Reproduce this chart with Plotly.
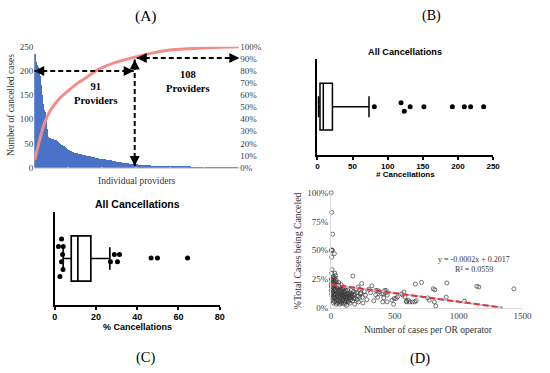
import plotly.graph_objects as go

# ---------------- Panel A: cancelled cases per provider (Pareto) ----------------
provider_cases = [
    236, 218, 212, 208, 203, 190, 172, 150, 132, 120, 115, 100, 80,
    64, 62, 61, 60, 60, 59, 58, 58, 57, 56,
    54, 52, 50, 48, 47, 45, 44, 42, 41, 39, 37, 35,
    34, 33, 32, 31, 31, 30, 30, 29, 29, 28, 28, 27, 27, 26,
    26, 25, 25, 24, 24, 24, 23, 23, 22, 22, 21, 21, 20, 20, 19, 19, 18,
    18, 17, 17, 16, 16, 16, 15, 15, 15, 14, 14, 13, 13, 12, 12,
    12, 11, 11, 11, 10, 10, 10, 9, 9, 9, 9, 8, 8, 8, 8, 7, 7,
    7, 7, 6, 6, 6, 6, 6, 6, 5, 5, 5, 5, 5, 5, 5, 4, 4, 4, 4, 4, 4, 4, 4,
    3, 3, 3, 3, 3, 3, 3, 3,
    3, 3, 3, 3, 3, 2, 2, 2, 2, 2, 2, 2, 2, 2, 2, 2, 2, 2, 2, 2, 2, 2, 2,
    1, 1, 1, 1, 1, 1, 1, 1, 1, 1, 1, 1, 1, 1, 1,
    1, 1, 1, 1, 1, 1, 1, 1, 1, 1, 1, 1, 1, 1, 1, 1,
    1, 1, 1, 1, 1, 1, 1, 1, 1, 1, 1, 1, 1, 1, 1, 1,
]
provider_index = list(range(len(provider_cases)))
cum_index = [0, 3, 6, 10, 15, 19, 25, 33, 41, 49, 60, 70, 80, 97, 115, 128, 150, 175, 198]
cum_share = [0.06, 0.17, 0.27, 0.38, 0.47, 0.52, 0.58, 0.64, 0.695, 0.74, 0.805,
             0.845, 0.875, 0.915, 0.95, 0.97, 0.985, 0.995, 1.0]
a_left_ticks = [0, 50, 100, 150, 200, 250]
a_right_ticks = [0, 0.1, 0.2, 0.3, 0.4, 0.5, 0.6, 0.7, 0.8, 0.9, 1.0]
group_labels = ["91<br>Providers", "108<br>Providers"]

# ---------------- Panel B: number of cancellations box plot ----------------
b_stats = dict(q1=3.7, median=8.4, q3=21.4, lowerfence=1.4, upperfence=73.4)
b_outliers = [81, 119, 123.6, 132, 151.5, 192, 209, 218, 236.5]
b_lane = [0, 0.08, -0.095, 0, 0, 0, 0, 0, 0]
b_ticks = [0, 50, 100, 150, 200, 250]

# ---------------- Panel C: % cancellations box plot ----------------
c_stats = dict(q1=8.0, median=11.2, q3=17.5, lowerfence=4.1, upperfence=26.7)
c_points = [3.3, 1.8, 4.1, 3.8, 3.3, 4.0, 2.5, 28.9, 31.4, 27.0, 30.4, 46.7, 49.8, 64.4]
c_lane = [0.42, 0.26, 0.26, 0.085, -0.07, -0.24, -0.39, 0.085, 0.085, -0.07, -0.07, 0.01, 0.01, 0.01]
c_ticks = [0, 20, 40, 60, 80]

# ---------------- Panel D: % canceled vs. number of cases ----------------
d_cases = [0, 5, 13, 2, 6, 10, 26, 5, 8, 4, 30, 35, 20, 171, 240,
           3, 7, 12, 15, 18, 22, 25, 28, 32, 38, 42, 45, 50, 55, 60, 65, 70, 75, 80, 85,
           90, 95, 100, 105, 110, 115, 120, 125, 130, 140, 145, 150,
           2, 5, 8, 10, 12, 15, 18, 20, 24, 27, 30, 33, 36, 40, 44, 48, 52, 56, 60, 64,
           68, 72, 76, 80, 84, 88, 92, 96, 100, 104, 108, 112, 118, 122, 128, 135, 142, 148,
           155, 160, 165, 170, 175, 180, 185, 190, 200, 210, 215, 222, 230, 245, 250, 260,
           270, 280, 295, 310, 320, 335, 350, 365, 380, 395, 405, 420, 430, 440,
           1, 3, 6, 9, 11, 14, 17, 19, 23, 26, 29, 31, 34, 37, 41, 43, 46, 49, 53, 58,
           62, 66, 71, 74, 78, 82, 86, 91, 94, 98, 102, 107, 111, 116, 124, 132, 138, 146,
           152, 158, 168, 178, 188, 196, 205, 212, 225, 235,
           350, 362, 408, 431, 439, 477, 495, 510, 520, 553, 571, 579, 591, 604, 617, 637,
           656, 661, 709, 770, 758, 801, 813, 809, 821, 903, 908, 1046, 1143, 1158, 1433,
           490, 413, 561, 592, 668]
d_cancel_pct = [100, 83, 64, 50, 50, 50, 47, 44, 33, 30, 30, 28, 27, 27.5, 21,
                25, 24, 26, 22, 20, 25, 23, 21, 19, 24, 22, 18, 17, 20, 22, 15, 18, 14, 20, 12,
                16, 13, 11, 17, 14, 9, 12, 10, 15, 12, 8, 11,
                15, 12, 10, 18, 8, 14, 6, 11, 9, 15, 5, 12, 8, 14, 6, 10, 4, 13, 7, 11,
                3, 9, 5, 8, 14, 6, 10, 4, 7, 12, 5, 9, 6, 2, 8, 5, 10, 4,
                7, 12, 9, 6, 14, 11, 3, 8, 13, 10, 5, 16, 12, 9, 4, 14,
                11, 7, 16, 13, 19, 6, 11, 9, 14, 12, 5, 15, 13, 11,
                20, 18, 22, 16, 13, 21, 9, 4, 17, 12, 8, 26, 16, 11, 3, 20, 12, 7, 15, 9,
                17, 5, 13, 10, 16, 4, 11, 7, 18, 9, 14, 3, 11, 15, 7, 12, 6, 13,
                9, 15, 10, 8, 12, 16, 7, 18, 9, 13,
                15, 15, 12, 15, 5, 6.5, 8, 8, 9.3, 12, 13.6, 9.3, 5, 6.5, 5, 5,
                5, 20.5, 22, 6.5, 8.5, 16.4, 15.5, 5, 1.5, 9.3, 21.5, 5.7, 18.6, 18, 16.4,
                3, 8.5, 11, 5.7, 6]
trend_intercept_pct = 20.17
trend_slope_pct = -0.015
d_xticks = [0, 500, 1000, 1500]
d_yticks = [0, 25, 50, 75, 100]
d_yticktext = ["0%", "25%", "50%", "75%", "100%"]

# ---------------- layout helpers ----------------
W, H = 550, 373
SERIF = "Liberation Serif"
SANS = "Liberation Sans"


def fx(p):
    return p / W


def fy(p):
    return 1 - p / H


fig = go.Figure()

# Panel A
fig.add_trace(go.Bar(x=provider_index, y=provider_cases, marker=dict(color="#4A72C6", line=dict(width=0)),
                     xaxis="x", yaxis="y", showlegend=False))
fig.add_trace(go.Scatter(x=cum_index, y=cum_share, mode="lines", line=dict(color="#F28C86", width=3, shape="spline"),
                         xaxis="x", yaxis="y2", showlegend=False))

# Panel B
fig.add_trace(go.Box(orientation="h", y=[0], q1=[b_stats["q1"]], median=[b_stats["median"]], q3=[b_stats["q3"]],
                     lowerfence=[b_stats["lowerfence"]], upperfence=[b_stats["upperfence"]],
                     width=0.97, whiskerwidth=0.45, fillcolor="white", line=dict(color="black", width=1.5),
                     boxpoints=False, xaxis="x3", yaxis="y3", showlegend=False))
fig.add_trace(go.Scatter(x=b_outliers, y=b_lane, mode="markers", marker=dict(color="black", size=5),
                         xaxis="x3", yaxis="y3", showlegend=False, cliponaxis=False))

# Panel C
fig.add_trace(go.Box(orientation="h", y=[0], q1=[c_stats["q1"]], median=[c_stats["median"]], q3=[c_stats["q3"]],
                     lowerfence=[c_stats["lowerfence"]], upperfence=[c_stats["upperfence"]],
                     width=0.98, whiskerwidth=0.5, fillcolor="white", line=dict(color="black", width=1.7),
                     boxpoints=False, xaxis="x4", yaxis="y4", showlegend=False))
fig.add_trace(go.Scatter(x=c_points, y=c_lane, mode="markers", marker=dict(color="black", size=5),
                         xaxis="x4", yaxis="y4", showlegend=False, cliponaxis=False))

# Panel D
fig.add_trace(go.Scatter(x=d_cases, y=d_cancel_pct, mode="markers",
                         marker=dict(symbol="circle-open", color="#3a3a3a", size=4, line=dict(width=0.7)),
                         xaxis="x5", yaxis="y5", showlegend=False, cliponaxis=False))
trend_end = -trend_intercept_pct / trend_slope_pct
trend_x = [0, trend_end]
trend_y = [trend_intercept_pct + trend_slope_pct * v for v in trend_x]
fig.add_trace(go.Scatter(x=trend_x, y=trend_y, mode="lines", line=dict(color="#A9C4E8", width=2),
                         xaxis="x5", yaxis="y5", showlegend=False))
fig.add_trace(go.Scatter(x=trend_x, y=trend_y, mode="lines", line=dict(color="#E8312A", width=2, dash="6px,3px"),
                         xaxis="x5", yaxis="y5", showlegend=False))

fig.update_layout(
    width=W, height=H, margin=dict(l=0, r=0, t=0, b=0),
    paper_bgcolor="white", plot_bgcolor="white", showlegend=False, bargap=0,
    xaxis=dict(domain=[fx(32), fx(242)], range=[-0.5, len(provider_cases) - 0.5], showticklabels=False,
               showgrid=False, zeroline=False, showline=True, linecolor="#D9D9D9", linewidth=1, anchor="y"),
    yaxis=dict(domain=[fy(167), fy(43)], range=[0, 250], tickvals=a_left_ticks, showgrid=False, zeroline=False,
               tickfont=dict(family=SERIF, size=9, color="#404040"), anchor="x"),
    yaxis2=dict(domain=[fy(167), fy(43)], range=[0, 1], tickvals=a_right_ticks, tickformat=".0%", overlaying="y",
                side="right", showgrid=False, zeroline=False,
                tickfont=dict(family=SERIF, size=9, color="#404040"), anchor="x"),
    xaxis3=dict(domain=[fx(322), fx(502)], range=[0, 250], tickvals=b_ticks, anchor="y3", showgrid=False,
                zeroline=False, showline=True, linecolor="black", linewidth=1.8, ticks="outside", ticklen=3,
                tickwidth=1.5, tickcolor="black", tickfont=dict(family=SANS, size=8, color="black", weight="bold")),
    yaxis3=dict(domain=[fy(154), fy(55)], range=[-1, 1], anchor="x3", showgrid=False, zeroline=False,
                showline=True, linecolor="black", linewidth=1.8, showticklabels=False, ticks=""),
    xaxis4=dict(domain=[fx(53), fx(222)], range=[0, 80], tickvals=c_ticks, anchor="y4", showgrid=False,
                zeroline=False, showline=True, linecolor="black", linewidth=1.8, ticks="outside", ticklen=3,
                tickwidth=1.5, tickcolor="black", tickfont=dict(family=SANS, size=9, color="black", weight="bold")),
    yaxis4=dict(domain=[fy(308), fy(213)], range=[-1, 1], anchor="x4", showgrid=False, zeroline=False,
                showline=True, linecolor="black", linewidth=1.8, showticklabels=False, ticks=""),
    xaxis5=dict(domain=[fx(336), fx(532)], range=[0, 1500], tickvals=d_xticks, anchor="y5", showgrid=False,
                zeroline=False, showline=True, linecolor="#D9D9D9", linewidth=1,
                tickfont=dict(family=SERIF, size=9, color="#404040")),
    yaxis5=dict(domain=[fy(311), fy(193)], range=[0, 100], tickvals=d_yticks, ticktext=d_yticktext, anchor="x5",
                showgrid=False, zeroline=False, showline=True, linecolor="#D9D9D9", linewidth=1,
                tickfont=dict(family=SERIF, size=9, color="#404040")),
)

# dashed guide lines in panel A
split_x = 97
dash_style = dict(color="black", width=2, dash="5px,3px")
fig.add_shape(type="line", xref="x", yref="y", x0=-0.5, x1=split_x - 1, y0=200, y1=200, line=dash_style)
fig.add_shape(type="line", xref="x", yref="y", x0=split_x, x1=split_x, y0=3, y1=224, line=dash_style)
fig.add_shape(type="line", xref="x", yref="y", x0=split_x + 2, x1=len(provider_cases) - 0.5, y0=227, y1=227,
              line=dash_style)

arrow_tips = [(-0.5, 200, 8, 0), (split_x - 1, 200, -8, 0), (split_x, 3, 0, -8), (split_x, 224, 0, 8),
              (split_x + 2, 227, 8, 0), (len(provider_cases) - 0.5, 227, -8, 0)]
for x, y, ax, ay in arrow_tips:
    fig.add_annotation(x=x, y=y, xref="x", yref="y", ax=ax, ay=ay, text="", showarrow=True,
                       arrowhead=2, arrowsize=1, arrowwidth=2, arrowcolor="black")

fig.add_annotation(x=59, y=153, xref="x", yref="y", text="<b>" + group_labels[0] + "</b>", showarrow=False,
                   font=dict(family=SERIF, size=10.5, color="black"))
fig.add_annotation(x=148.6, y=179, xref="x", yref="y", text="<b>" + group_labels[1] + "</b>", showarrow=False,
                   font=dict(family=SERIF, size=10.5, color="black"))


def label(text, x, y, size, family=SERIF, bold=False, angle=0, color="black"):
    fig.add_annotation(x=fx(x), y=fy(y), xref="paper", yref="paper", text=("<b>%s</b>" % text) if bold else text,
                       showarrow=False, xanchor="center", yanchor="middle", textangle=angle,
                       font=dict(family=family, size=size, color=color), borderpad=0)


label("(A)", 146, 11, 15.5)
label("(B)", 439, 11, 14)
label("(C)", 146, 362, 14.5)
label("(D)", 427, 363, 14.5)
label("Individual providers", 137, 181, 9.5, color="#333333")
label("Number of cancelled cases", 8, 103, 9.5, angle=-90, color="#333333")
label("All Cancellations", 412, 48, 9.2, family=SANS, bold=True)
label("# Cancellations", 412, 174.5, 8, family=SANS, bold=True)
label("All Cancellations", 137.5, 204, 10.5, family=SANS, bold=True)
label("% Cancellations", 138, 331, 9, family=SANS, bold=True)
label("%Total Cases being Canceled", 301, 252, 9.8, angle=-90, color="#333333")
label("Number of cases per OR operator", 436, 334, 9.5, color="#333333")
label("y = -0.0002x + 0.2017", 482, 261.5, 8, color="#333333")
label("R² = 0.0559", 482.5, 271.5, 8, color="#333333")

fig.write_html("out.html", config={"displayModeBar": False},
               post_script="document.body.style.margin='0px';document.body.style.overflow='hidden';")
